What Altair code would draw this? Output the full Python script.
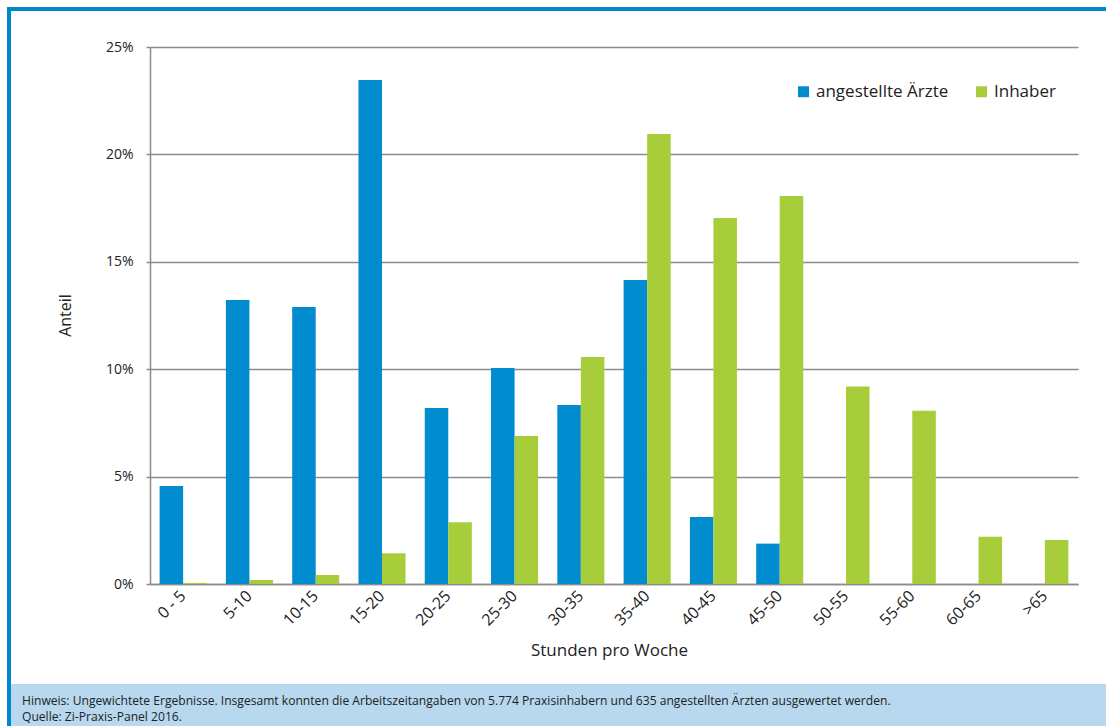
import altair as alt
import pandas as pd

# Weekly working hours: share of respondents per hour band
categories = ["0 - 5", "5-10", "10-15", "15-20", "20-25", "25-30", "30-35",
              "35-40", "40-45", "45-50", "50-55", "55-60", "60-65", ">65"]
angestellte = [4.56, 13.22, 12.9, 23.46, 8.19, 10.06, 8.33,
               14.15, 3.12, 1.88, 0.0, 0.0, 0.0, 0.0]
inhaber = [0.05, 0.19, 0.42, 1.43, 2.88, 6.89, 10.57,
           20.95, 17.04, 18.06, 9.19, 8.07, 2.2, 2.05]
series_names = ["angestellte Ärzte", "Inhaber"]
series_colors = ["#008ccf", "#a8cd3b"]

footer_lines = [
    "Hinweis: Ungewichtete Ergebnisse. Insgesamt konnten die Arbeitszeitangaben von 5.774 Praxisinhabern und 635 angestellten Ärzten ausgewertet werden.",
    "Quelle: Zi-Praxis-Panel 2016.",
]

rows = []
for cat, a, i in zip(categories, angestellte, inhaber):
    rows.append({"Stunden": cat, "Gruppe": series_names[0], "Anteil": a / 100})
    rows.append({"Stunden": cat, "Gruppe": series_names[1], "Anteil": i / 100})
df = pd.DataFrame(rows)

FONT = "Open Sans"
W, H = 928, 537

bars = alt.Chart(df).mark_bar().encode(
    x=alt.X("Stunden:N", sort=categories,
            scale=alt.Scale(paddingInner=0.29, paddingOuter=0.145),
            axis=alt.Axis(title="Stunden pro Woche", labelAngle=-45,
                          labelAlign="right", labelBaseline="middle",
                          labelPadding=9, labelFontSize=16, labelFont=FONT,
                          labelColor="#222222", ticks=False,
                          domainColor="#8c8c8c", domainWidth=1.5,
                          titleFont=FONT, titleFontSize=17,
                          titleFontWeight="normal", titleColor="#222222",
                          titleX=459, titleY=66, titleAlign="center",
                          titleBaseline="middle")),
    xOffset=alt.XOffset("Gruppe:N", sort=series_names,
                        scale=alt.Scale(paddingInner=0, paddingOuter=0)),
    y=alt.Y("Anteil:Q", scale=alt.Scale(domain=[0, 0.25], nice=False),
            axis=alt.Axis(title="Anteil", format=".0%", values=[0, 0.05, 0.1, 0.15, 0.2, 0.25],
                          labelFontSize=14, labelFont=FONT, labelColor="#222222",
                          labelPadding=13, tickSize=4, tickColor="#8c8c8c",
                          tickWidth=1.5, domainColor="#8c8c8c", domainWidth=1.5,
                          gridColor="#8c8c8c", gridWidth=1.5,
                          titleFont=FONT, titleFontSize=16, titleFontWeight="normal",
                          titleColor="#222222", titleX=-85, titleY=268,
                          titleBaseline="middle", titleAngle=-90)),
    color=alt.Color("Gruppe:N", sort=series_names,
                    scale=alt.Scale(domain=series_names, range=series_colors),
                    legend=alt.Legend(title=None, orient="none", legendX=645,
                                      legendY=36, direction="horizontal",
                                      symbolType="square", symbolSize=120,
                                      symbolStrokeWidth=0, symbolOpacity=1,
                                      labelFont=FONT, labelFontSize=17,
                                      labelColor="#222222", labelOffset=4,
                                      columnPadding=24)),
)

one = pd.DataFrame({"k": [0]})

# Blue frame along top and left edges
frame_top = alt.Chart(one).mark_rule(color="#0088cc", strokeWidth=4).encode(
    x=alt.value(-143), x2=alt.value(W + 28), y=alt.value(-38))
frame_left = alt.Chart(one).mark_rule(color="#0088cc", strokeWidth=4).encode(
    x=alt.value(-141), y=alt.value(-40), y2=alt.value(H + 142))

# Footer band with the notes
footer_band = alt.Chart(one).mark_rect(color="#b7d8ee").encode(
    x=alt.value(-139), x2=alt.value(W + 28),
    y=alt.value(637), y2=alt.value(H + 142))
footer_text1 = alt.Chart(one).mark_text(
    align="left", baseline="middle", font=FONT, fontSize=12.1, color="#222222"
).encode(x=alt.value(-128), y=alt.value(654), text=alt.value(footer_lines[0]))
footer_text2 = alt.Chart(one).mark_text(
    align="left", baseline="middle", font=FONT, fontSize=12.1, color="#222222"
).encode(x=alt.value(-128), y=alt.value(670), text=alt.value(footer_lines[1]))

chart = alt.layer(
    footer_band, frame_top, frame_left, bars, footer_text1, footer_text2
).properties(
    width=W, height=H,
    padding={"left": 150, "top": 47, "right": 28, "bottom": 142},
    autosize=alt.AutoSizeParams(type="none"),
    background="white",
).configure_view(stroke=None)

chart.save("out.html", embed_options={"renderer": "svg", "actions": False})
